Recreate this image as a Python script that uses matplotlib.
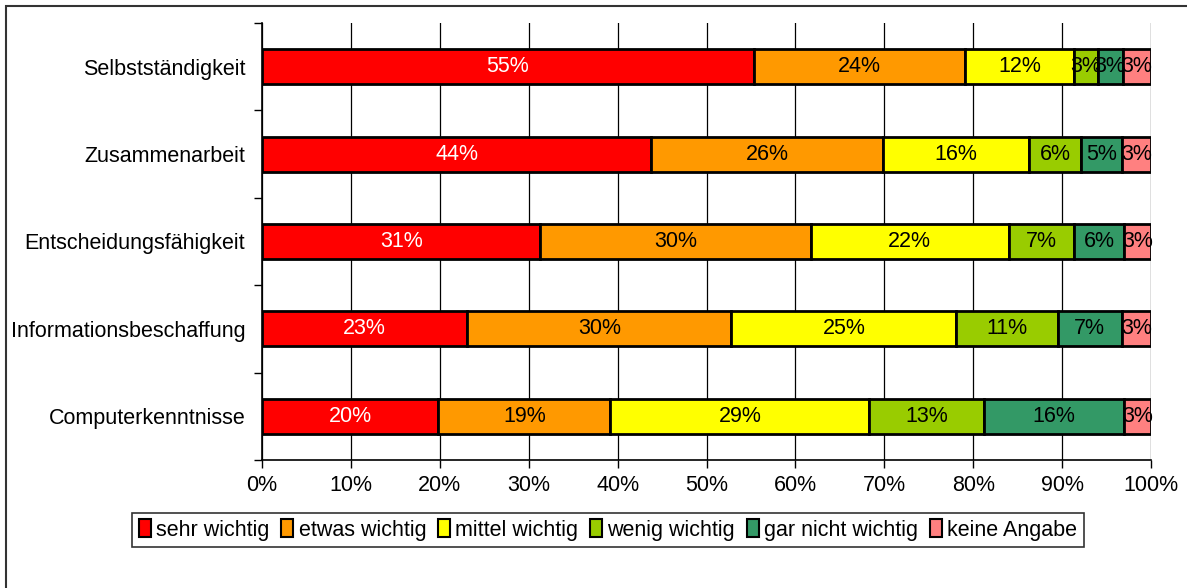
import numpy as np
import matplotlib
matplotlib.use("Agg")
import matplotlib.pyplot as plt
from matplotlib.patches import Rectangle

plt.rcParams['font.family'] = ['Liberation Sans', 'DejaVu Sans']

categories = ["Selbstständigkeit", "Zusammenarbeit", "Entscheidungsfähigkeit",
              "Informationsbeschaffung", "Computerkenntnisse"]
series = ["sehr wichtig", "etwas wichtig", "mittel wichtig",
          "wenig wichtig", "gar nicht wichtig", "keine Angabe"]
colors = ["#FF0000", "#FF9900", "#FFFF00", "#99CC00", "#339966", "#FF8080"]
text_colors = ["white", "black", "black", "black", "black", "black"]

# percent per category, one list per series
sehr = [55.3, 43.8, 31.3, 23.1, 19.8]
etwas = [23.8, 26.1, 30.4, 29.7, 19.4]
mittel = [12.2, 16.4, 22.3, 25.3, 29.1]
wenig = [2.7, 5.8, 7.3, 11.4, 12.9]
gar_nicht = [2.8, 4.6, 5.7, 7.2, 15.8]
keine = [3.2, 3.3, 3.0, 3.3, 3.0]
values = [sehr, etwas, mittel, wenig, gar_nicht, keine]

fig = plt.figure(figsize=(11.87, 5.88), dpi=100)
ax = fig.add_axes([262 / 1187, 1 - 460 / 588, 889 / 1187, 437 / 588])

y = np.arange(len(categories))[::-1]
left = np.zeros(len(categories))
for vals, name, col, tc in zip(values, series, colors, text_colors):
    vals = np.array(vals)
    ax.barh(y, vals, left=left, height=0.4, color=col, edgecolor="black",
            linewidth=2, label=name, zorder=3)
    for yy, l, v in zip(y, left, vals):
        ax.text(l + v / 2, yy, f"{round(v):d}%", ha="center", va="center",
                color=tc, fontsize=15.5, zorder=4)
    left += vals

ax.set_xlim(0, 100)
ax.set_ylim(-0.5, len(categories) - 0.5)
ax.set_xticks(np.arange(0, 101, 10))
ax.set_xticklabels([f"{t}%" for t in range(0, 101, 10)], fontsize=15.5)
ax.set_yticks(y)
ax.set_yticklabels(categories, fontsize=15.5)
ax.set_yticks(np.arange(-0.5, len(categories), 1), minor=True)
ax.tick_params(axis="y", which="major", length=0, pad=12)
ax.tick_params(axis="y", which="minor", length=6, width=1, direction="out")
ax.tick_params(axis="x", length=6, width=1, direction="out", pad=5)
ax.xaxis.grid(True, color="black", linewidth=0.9, zorder=0)
ax.set_axisbelow(True)
for s in ["top", "right"]:
    ax.spines[s].set_visible(False)
for s in ["left", "bottom"]:
    ax.spines[s].set_linewidth(1.2)

leg = fig.legend(loc="center", bbox_to_anchor=(608 / 1187, 1 - 530 / 588),
                 ncol=6, fontsize=15.5, frameon=True, fancybox=False,
                 handlelength=0.55, handleheight=0.85, handletextpad=0.25,
                 columnspacing=0.55, borderpad=0.3, borderaxespad=0,
                 edgecolor="black")
leg.get_frame().set_linewidth(1.2)
for h in leg.legend_handles:
    h.set_linewidth(1.5)

fig.patches.append(Rectangle((6 / 1187, -0.5), 2, 0.5 + 1 - 6 / 588,
                             transform=fig.transFigure, fill=False,
                             edgecolor="#333333", linewidth=1.5))

fig.savefig("out.png", dpi=100)
